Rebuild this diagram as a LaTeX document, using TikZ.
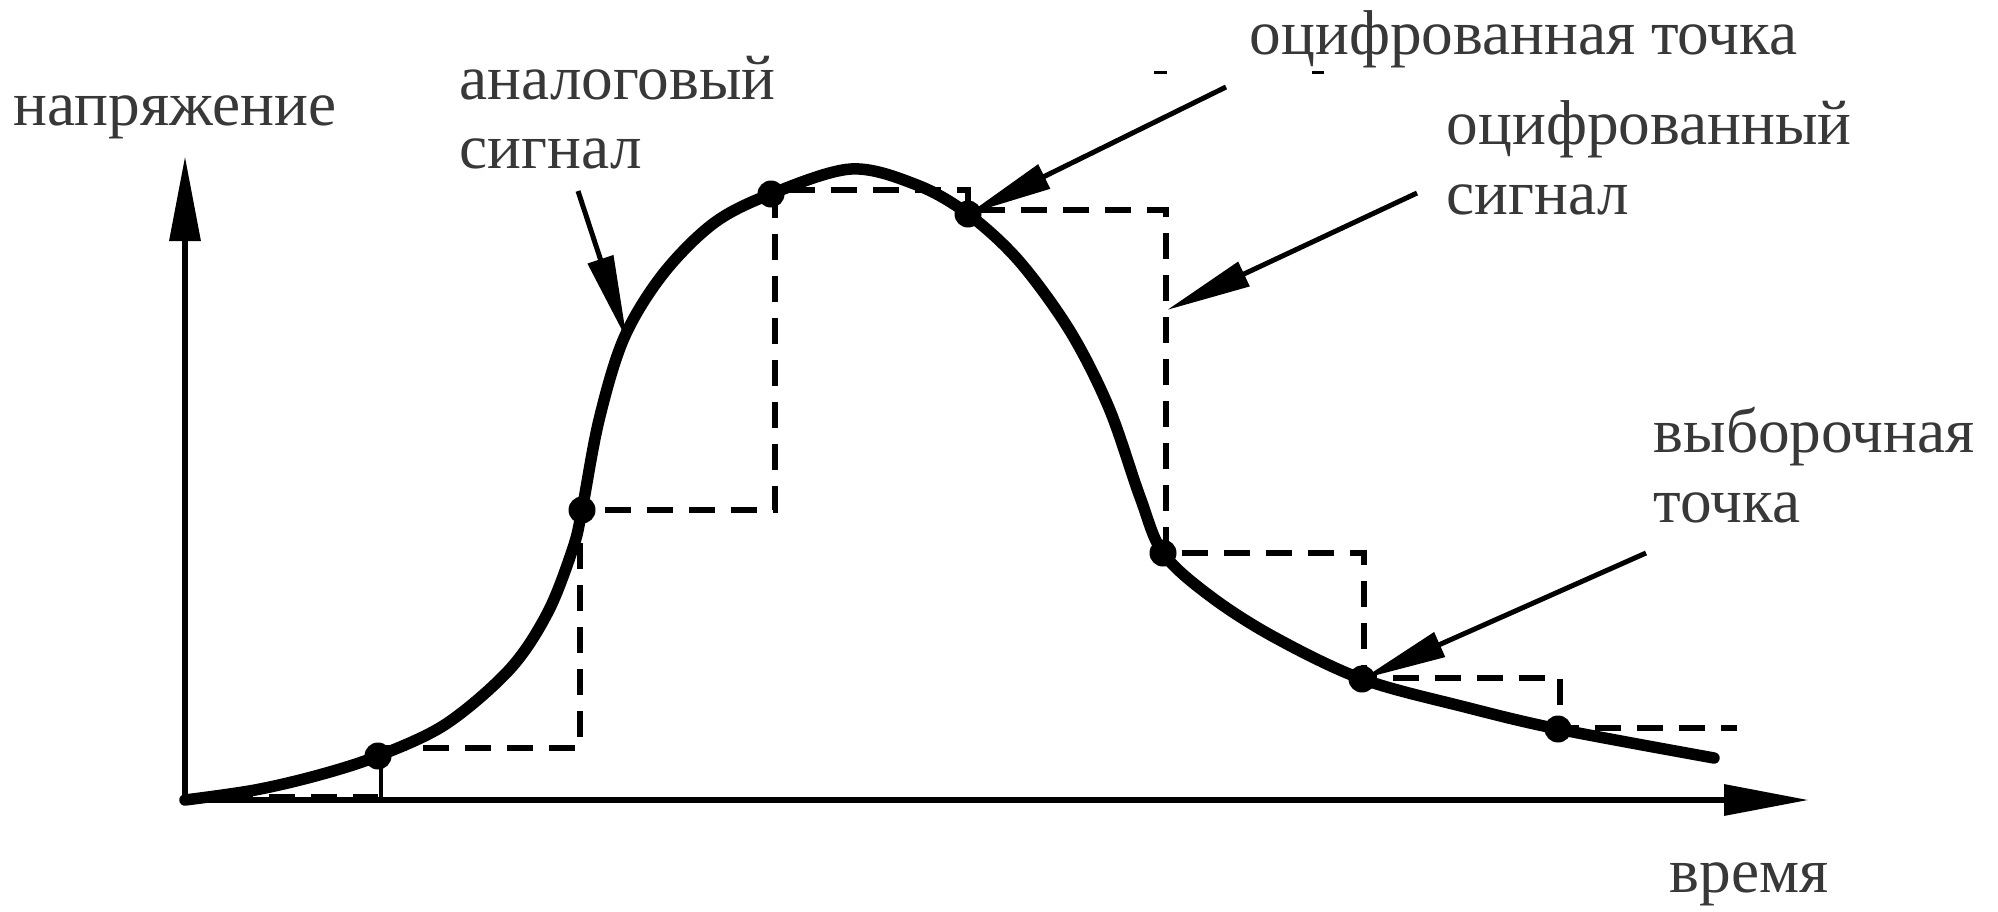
\documentclass[tikz,border=0pt]{standalone}
\usepackage{fontspec}
\setmainfont{Liberation Serif}
\newfontfamily\lblfont{Liberation Serif}
\usetikzlibrary{arrows.meta}
\begin{document}
\begin{tikzpicture}[x=0.1mm,y=-0.1mm,
  lbl/.style={anchor=base west, inner sep=0pt, text=black!78, font=\lblfont\fontsize{18}{20}\selectfont},
  axisline/.style={line width=0.65mm, -{Triangle[length=8.5mm,width=3mm]}},
  curveline/.style={line width=1.15mm, line cap=round, line join=round},
  digital/.style={line width=0.6mm, dash pattern=on 2.6mm off 1.6mm},
  pointer/.style={line width=0.5mm, -{Triangle[length=8.5mm,width=2.6mm]}},
  dotfill/.style={fill=black}
]
\useasboundingbox (0,0) rectangle (1998,911);

% axes
\coordinate (O) at (185,800);
\coordinate (ytop) at (185,156);
\coordinate (xend) at (1809,800);
\draw[axisline] (O) -- (ytop);
\draw[axisline] (O) -- (xend);

% sample points
\coordinate (s1) at (378,756);
\coordinate (s2) at (582,510);
\coordinate (s3) at (771,194);
\coordinate (s4) at (968,214);
\coordinate (s5) at (1163,553);
\coordinate (s6) at (1362,679);
\coordinate (s7) at (1558,729);

% digital (held) signal
\draw[digital] (185,797) -- (378,797);
\draw[line width=0.35mm] (381,800) -- (381,756);
\draw[digital] (381,748) -- (580,748) -- (580,510) -- (775,510) -- (775,190)
  -- (968,190) -- (968,210) -- (1166,210) -- (1166,553) -- (1364,553)
  -- (1364,678) -- (1560,678) -- (1560,728) -- (1737,728);

% analog signal
\draw[curveline] plot[smooth, tension=0.55] coordinates {
  (185,800) (255,790) (319,775) (378,756) (446,724) (510,669) (548,612)
  (573,548) (582,510) (599,420) (624,338) (663,274) (714,223) (771,194)
  (851,169) (917,185) (968,214) (1019,261) (1070,331) (1109,408)
  (1140,497) (1163,553) (1210,596) (1274,637) (1362,679) (1465,707)
  (1558,729) (1714,758)};

% dots
\foreach \p in {s1,s2,s3,s4,s5,s6,s7} \fill[dotfill] (\p) circle (1.35mm);

% labels
\node[lbl] (tU) at (13,125) {напряжение};
\node[lbl] (tA1) at (459,99) {аналоговый};
\node[lbl] (tA2) at (459,168) {сигнал};
\node[lbl] (tDP) at (1249,54) {оцифрованная точка};
\node[lbl] (tDS1) at (1446,144) {оцифрованный};
\node[lbl] (tDS2) at (1446,214) {сигнал};
\node[lbl] (tSP1) at (1653,452) {выборочная};
\node[lbl] (tSP2) at (1653,522) {точка};
\node[lbl] (tT) at (1669,892) {время};

% small stray marks
\draw[line width=0.3mm] (1154,72) -- (1167,72);
\draw[line width=0.3mm] (1312,72) -- (1324,72);

% pointers
\coordinate (pA) at (578,191);
\coordinate (cA) at (627,340);
\coordinate (pDP) at (1226,87);
\coordinate (pDS) at (1417,193);
\coordinate (cDS) at (1167,310);
\coordinate (pSP) at (1646,553);
\draw[pointer] (pA) -- (cA);
\draw[pointer] (pDP) -- (s4);
\draw[pointer] (pDS) -- (cDS);
\draw[pointer] (pSP) -- (s6);
\end{tikzpicture}
\end{document}
